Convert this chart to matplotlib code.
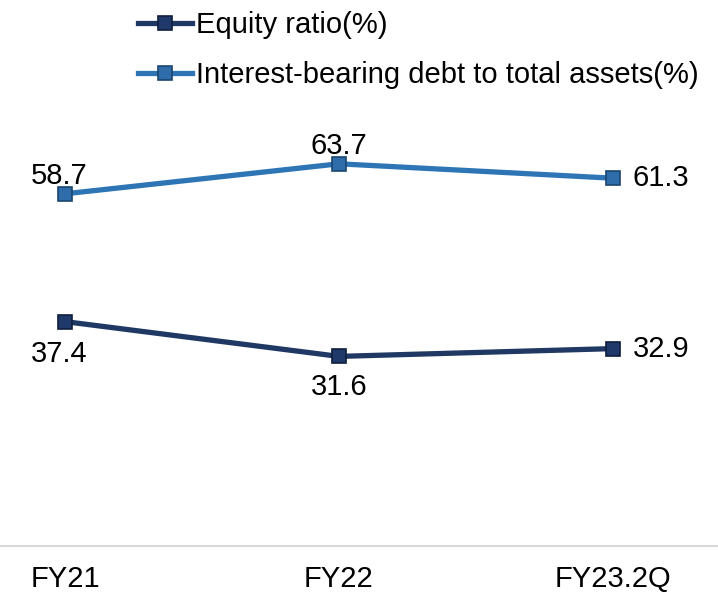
import matplotlib.pyplot as plt
from matplotlib.lines import Line2D

plt.rcParams['font.family'] = ['Liberation Sans', 'DejaVu Sans']

categories = ['FY21', 'FY22', 'FY23.2Q']
equity_ratio = [37.4, 31.6, 32.9]
debt_ratio = [58.7, 63.7, 61.3]

dark = '#203864'
light = '#2E75B6'
fs = 21

fig = plt.figure(figsize=(7.18, 5.92), dpi=100)
ax = fig.add_axes([0, 46 / 592, 1, 446 / 592])

x = list(range(len(categories)))
ax.plot(x, equity_ratio, color=dark, lw=3.8, marker='s', ms=10.5,
        mfc='#1F3A6A', mec='#0F1E3C', mew=1.2, zorder=3)
ax.plot(x, debt_ratio, color=light, lw=3.8, marker='s', ms=10.5,
        mfc='#2F6DAA', mec='#1B4670', mew=1.2, zorder=3)

ax.set_xlim(-65 / 274, -65 / 274 + 718 / 274)
ax.set_ylim(0, 446 / 6)

# value labels
offs_eq = [(-4, -13, 'center', 'top'), (0, -12, 'center', 'top'), (14, 0, 'left', 'center')]
offs_db = [(-4, 3, 'center', 'bottom'), (0, 3, 'center', 'bottom'), (14, 0, 'left', 'center')]
for vals, offs in ((equity_ratio, offs_eq), (debt_ratio, offs_db)):
    for i, v in enumerate(vals):
        dx, dy, ha, va = offs[i]
        ax.annotate(f'{v:.1f}', (i, v), xytext=(dx, dy), textcoords='offset points',
                    ha=ha, va=va, fontsize=fs, color='black')

for s in ['top', 'right', 'left']:
    ax.spines[s].set_visible(False)
ax.spines['bottom'].set_color('#D9D9D9')
ax.spines['bottom'].set_linewidth(1.5)
ax.set_yticks([])
ax.set_xticks(x)
ax.set_xticklabels(categories, fontsize=fs)
ax.tick_params(axis='x', length=0, pad=14)

handles = [
    Line2D([], [], color=dark, lw=3.8, marker='s', ms=10.5, mfc='#1F3A6A', mec='#0F1E3C', mew=1.2),
    Line2D([], [], color=light, lw=3.8, marker='s', ms=10.5, mfc='#2F6DAA', mec='#1B4670', mew=1.2),
]
fig.legend(handles, ['Equity ratio(%)', 'Interest-bearing debt to total assets(%)'],
           loc='upper left', bbox_to_anchor=(135 / 718, 1 - 8 / 592), frameon=False,
           fontsize=fs, handlelength=1.85, handletextpad=0.15, labelspacing=0.75,
           borderpad=0.1, borderaxespad=0)

fig.savefig('out.png', dpi=100)
